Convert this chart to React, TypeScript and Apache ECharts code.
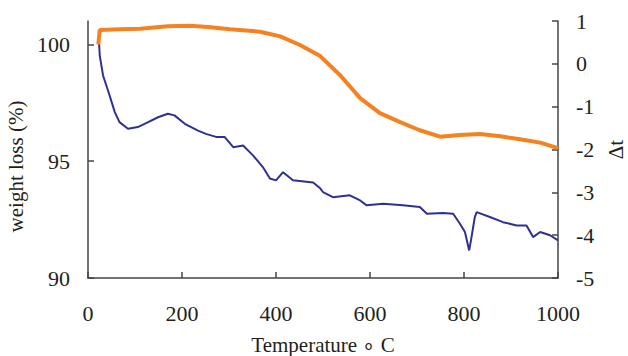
import React, { useEffect, useRef } from "react";
import * as echarts from "echarts";

// Temperature (°C) and weight (%) for the blue curve (left axis)
const blueTemps = [23, 25, 32, 46, 57, 67, 85, 106, 128, 149, 170, 184, 206, 234, 251, 274, 291, 309, 330, 351, 372, 387, 400, 415, 436, 479, 494, 500, 521, 557, 579, 593, 628, 670, 706, 721, 755, 777, 791, 802, 811, 816, 823, 827, 855, 883, 912, 933, 947, 962, 983, 1000];
const blueValues = [100.25, 99.52, 98.67, 97.81, 97.1, 96.67, 96.39, 96.46, 96.67, 96.88, 97.03, 96.96, 96.6, 96.31, 96.17, 96.03, 96.03, 95.6, 95.67, 95.25, 94.75, 94.26, 94.18, 94.53, 94.18, 94.09, 93.84, 93.68, 93.46, 93.54, 93.32, 93.11, 93.18, 93.11, 93.04, 92.75, 92.78, 92.75, 92.33, 91.97, 91.18, 91.75, 92.61, 92.82, 92.61, 92.39, 92.25, 92.25, 91.75, 91.97, 91.83, 91.61];

// Temperature (°C) and Δt for the orange curve (right axis)
const orangeTemps = [22, 25, 68, 111, 170, 217, 255, 302, 366, 409, 451, 494, 536, 579, 621, 664, 706, 749, 791, 834, 877, 919, 962, 1000];
const orangeValues = [0.45, 0.79, 0.81, 0.82, 0.88, 0.89, 0.86, 0.81, 0.75, 0.64, 0.44, 0.18, -0.26, -0.8, -1.15, -1.36, -1.55, -1.7, -1.66, -1.64, -1.69, -1.76, -1.84, -1.97];

const xTicks = [0, 200, 400, 600, 800, 1000];
const leftTicks = [90, 95, 100];
const rightTicks = [-5, -4, -3, -2, -1, 0, 1];

const FONT = '"Liberation Serif", "Times New Roman", serif';
const TEXT = "#231f20";
const AXIS = "#444";

export default function App() {
  const ref = useRef<HTMLDivElement>(null);
  useEffect(() => {
    if (!ref.current) return;
    const chart = echarts.init(ref.current, null, { renderer: "svg" });
    const blueData = blueTemps.map((t, i) => [t, blueValues[i]]);
    const orangeData = orangeTemps.map((t, i) => [t, orangeValues[i]]);
    const fmt = (v: number) => String(v);
    chart.setOption({
      animation: false,
      backgroundColor: "#fff",
      grid: { left: 88, right: 70, top: 21, bottom: 78, containLabel: false, outerBoundsMode: "none" },
      xAxis: {
        type: "value",
        min: 0,
        max: 1000,
        interval: 200,
        name: "Temperature ∘ C",
        nameLocation: "middle",
        nameGap: 56,
        nameTextStyle: { fontFamily: FONT, fontSize: 21, color: TEXT },
        axisLine: { show: true, onZero: false, lineStyle: { color: AXIS, width: 1.5 } },
        axisTick: { show: true, inside: true, length: 6, lineStyle: { color: AXIS, width: 1.5 }, customValues: xTicks },
        axisLabel: { fontFamily: FONT, fontSize: 22, color: TEXT, margin: 24, customValues: xTicks, formatter: fmt },
        splitLine: { show: false },
      },
      yAxis: [
        {
          type: "value",
          min: 90,
          max: 101,
          interval: 5,
          name: "weight loss (%)",
          nameLocation: "middle",
          nameGap: 56,
          nameTextStyle: { fontFamily: FONT, fontSize: 21, color: TEXT, padding: [0, 34, 0, 0] },
          axisLine: { show: true, onZero: false, lineStyle: { color: AXIS, width: 1.5 } },
          axisTick: { show: true, inside: true, length: 6, lineStyle: { color: AXIS, width: 1.5 }, customValues: leftTicks },
          axisLabel: { fontFamily: FONT, fontSize: 22, color: TEXT, margin: 18, customValues: leftTicks, formatter: fmt },
          splitLine: { show: false },
        },
        {
          type: "value",
          position: "right",
          min: -5,
          max: 1,
          interval: 1,
          name: "Δt",
          nameLocation: "middle",
          nameGap: 47,
          nameTextStyle: { fontFamily: FONT, fontSize: 21, color: TEXT },
          axisLine: { show: true, onZero: false, lineStyle: { color: AXIS, width: 1.5 } },
          axisTick: { show: true, inside: true, length: 6, lineStyle: { color: AXIS, width: 1.5 }, customValues: rightTicks },
          axisLabel: { fontFamily: FONT, fontSize: 22, color: TEXT, margin: 18, customValues: rightTicks, formatter: fmt },
          splitLine: { show: false },
        },
      ],
      series: [
        {
          type: "line",
          yAxisIndex: 0,
          data: blueData,
          showSymbol: false,
          lineStyle: { color: "#2E3192", width: 2 },
          itemStyle: { color: "#2E3192" },
          z: 2,
        },
        {
          type: "line",
          yAxisIndex: 1,
          data: orangeData,
          showSymbol: false,
          lineStyle: { color: "#F58220", width: 4 },
          itemStyle: { color: "#F58220" },
          z: 3,
        },
      ],
    });
    return () => chart.dispose();
  }, []);
  return (
    <div
      ref={ref}
      style={{ position: "fixed", left: 0, top: 0, width: 628, height: 356, background: "#fff" }}
    />
  );
}
